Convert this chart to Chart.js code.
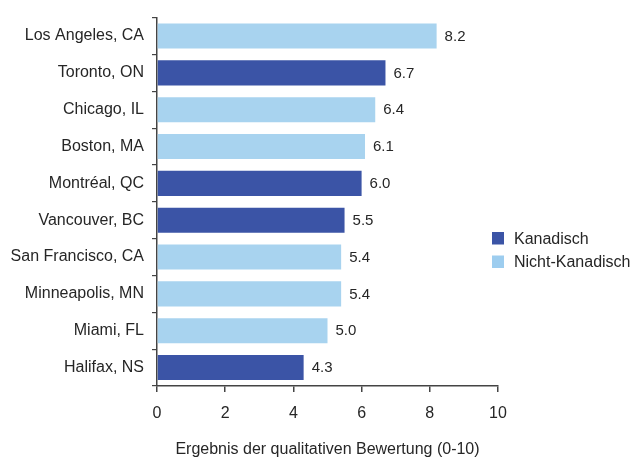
<!DOCTYPE html>
<html>
<head>
<meta charset="utf-8">
<script src="https://cdn.jsdelivr.net/npm/chart.js@4/dist/chart.umd.min.js"></script>
<style>
  html, body { margin: 0; padding: 0; background: #fff; }
  #wrap { width: 632px; height: 459px; }
</style>
</head>
<body>
<div id="wrap"><canvas id="c" width="632" height="459"></canvas></div>
<script>
// City scores (0-10) and whether each city is Canadian
const cities = [
  'Los Angeles, CA', 'Toronto, ON', 'Chicago, IL', 'Boston, MA', 'Montréal, QC',
  'Vancouver, BC', 'San Francisco, CA', 'Minneapolis, MN', 'Miami, FL', 'Halifax, NS'
];
const scores = [8.2, 6.7, 6.4, 6.1, 6.0, 5.5, 5.4, 5.4, 5.0, 4.3];
const canadian = [false, true, false, false, true, true, false, false, false, true];
const groupNames = ['Kanadisch', 'Nicht-Kanadisch'];
const xTicks = [0, 2, 4, 6, 8, 10];
const axisTitle = 'Ergebnis der qualitativen Bewertung (0-10)';

const DARK = '#3b54a6';
const LIGHT = '#a8d3ef';
const LEGEND_LIGHT = '#9dcdef';
const TEXT = '#262626';
const FONT = '"Liberation Sans", Arial, Helvetica, sans-serif';

// Value labels at the end of each bar
const valueLabels = {
  id: 'valueLabels',
  afterDatasetsDraw(chart) {
    const ctx = chart.ctx;
    const meta = chart.getDatasetMeta(0);
    ctx.save();
    ctx.font = '15px ' + FONT;
    ctx.fillStyle = TEXT;
    ctx.textAlign = 'left';
    ctx.textBaseline = 'middle';
    meta.data.forEach((bar, i) => {
      ctx.fillText(scores[i].toFixed(1), bar.x + 8, bar.y + 0.5);
    });
    ctx.restore();
  }
};

// Legend on the right, beside the lower half of the plot
const sideLegend = {
  id: 'sideLegend',
  afterDraw(chart) {
    const ctx = chart.ctx;
    const x = chart.chartArea.right - 6;
    const y0 = 238.5;
    const colors = [DARK, LEGEND_LIGHT];
    ctx.save();
    ctx.font = '16px ' + FONT;
    ctx.textAlign = 'left';
    ctx.textBaseline = 'middle';
    groupNames.forEach((name, i) => {
      const y = y0 + i * 23.5;
      ctx.fillStyle = colors[i];
      ctx.fillRect(x, y - 6.5, 12, 12.5);
      ctx.fillStyle = TEXT;
      ctx.fillText(name, x + 22, y + 1);
    });
    ctx.restore();
  }
};

new Chart(document.getElementById('c'), {
  type: 'bar',
  data: {
    labels: cities,
    datasets: [{
      data: scores,
      backgroundColor: canadian.map(c => c ? DARK : LIGHT),
      borderWidth: 0,
      barPercentage: 0.68,
      categoryPercentage: 1
    }]
  },
  options: {
    indexAxis: 'y',
    responsive: false,
    animation: false,
    devicePixelRatio: 1,
    layout: { padding: { top: 14, right: 134, left: 0, bottom: 0 } },
    plugins: {
      legend: { display: false },
      tooltip: { enabled: false }
    },
    scales: {
      x: {
        min: 0,
        max: 10,
        afterBuildTicks(scale) { scale.ticks = xTicks.map(v => ({ value: v })); },
        afterFit(scale) { scale.height = 73; },
        grid: { drawOnChartArea: false, drawTicks: true, tickLength: 6, color: '#444', lineWidth: 1.5 },
        border: { display: true, color: '#444', width: 1.5 },
        ticks: { color: TEXT, font: { family: FONT, size: 16 }, padding: 12, maxRotation: 0 },
        title: {
          display: true,
          text: axisTitle,
          color: TEXT,
          font: { family: FONT, size: 16 },
          padding: { top: 19, bottom: 0 }
        }
      },
      y: {
        afterFit(scale) { scale.width = 157; },
        grid: { drawOnChartArea: false, drawTicks: true, tickLength: 5, color: '#444', lineWidth: 1.2, offset: true },
        border: { display: true, color: '#444', width: 1.5 },
        ticks: { color: TEXT, font: { family: FONT, size: 16 }, padding: 8, autoSkip: false }
      }
    }
  },
  plugins: [valueLabels, sideLegend]
});
</script>
</body>
</html>
